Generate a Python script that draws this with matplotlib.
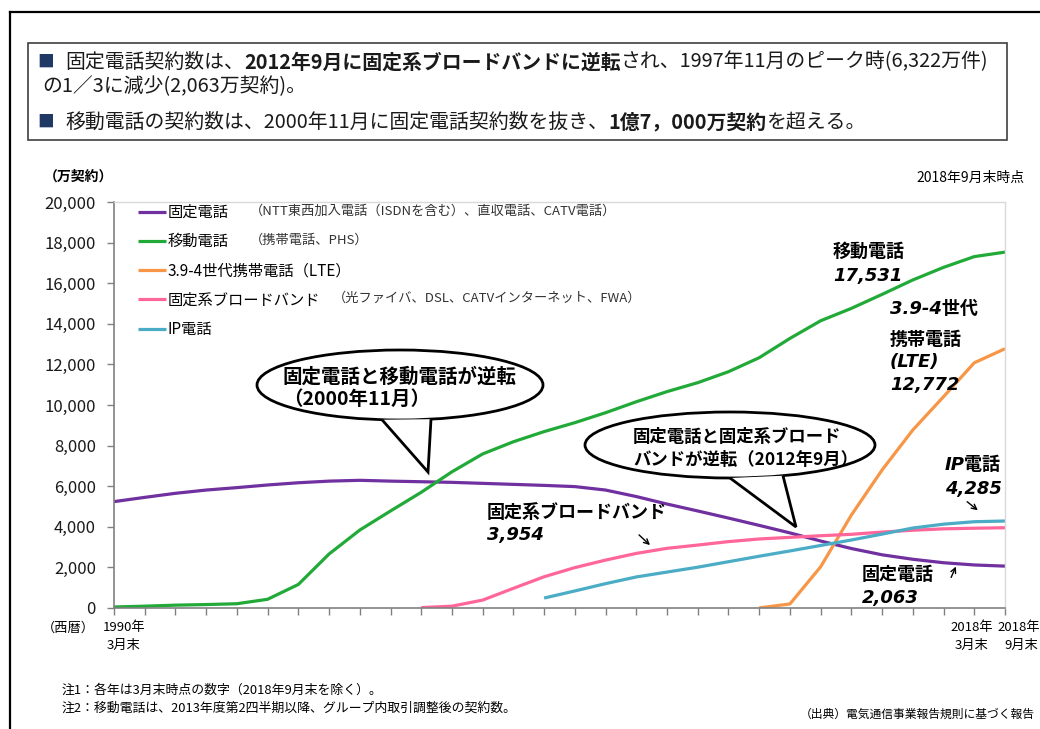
import numpy as np
import matplotlib
matplotlib.use('Agg')
import matplotlib.pyplot as plt
from matplotlib.patches import Ellipse, Polygon, Rectangle, FancyArrowPatch
from matplotlib.lines import Line2D
from matplotlib.ticker import FuncFormatter

plt.rcParams['font.family'] = ['Noto Sans CJK JP', 'DejaVu Sans']

W, H = 1040, 729

# 各年3月末（最後は2018年9月末）, 単位：万契約
periods = [str(y) for y in range(1990, 2019)] + ['2018.09']

fixed_phone = [5240, 5450, 5650, 5810, 5930, 6060, 6170, 6250, 6290, 6250,
               6220, 6190, 6140, 6090, 6040, 5980, 5810, 5490, 5120, 4780,
               4430, 4070, 3700, 3300, 2930, 2620, 2400, 2230, 2120, 2063]
mobile_phone = [50, 90, 140, 170, 210, 430, 1160, 2660, 3840, 4780,
                5700, 6710, 7590, 8190, 8690, 9130, 9620, 10160, 10660, 11100,
                11640, 12330, 13280, 14150, 14760, 15450, 16160, 16780, 17310, 17531]
lte_start = 21
lte = [3, 200, 2030, 4580, 6800, 8770, 10410, 12080, 12772]
broadband_start = 10
broadband = [20, 90, 390, 970, 1540, 1990, 2360, 2690, 2940, 3100,
             3270, 3400, 3480, 3560, 3630, 3740, 3830, 3900, 3930, 3954]
ip_start = 14
ip_phone = [490, 840, 1200, 1530, 1770, 2010, 2280, 2550, 2810, 3080,
            3350, 3640, 3940, 4130, 4250, 4285]

labels = ['固定電話', '移動電話', '3.9-4世代携帯電話（LTE）', '固定系ブロードバンド', 'IP電話']
notes = ['（NTT東西加入電話（ISDNを含む）、直収電話、CATV電話）', '（携帯電話、PHS）', None,
         '（光ファイバ、DSL、CATVインターネット、FWA）', None]
colors = ['#7030A0', '#22AA38', '#F79646', '#FF6699', '#4BACC6']


def fx(px):
    return px / W


def fy(py):
    return 1 - py / H


fig = plt.figure(figsize=(W / 100, H / 100), dpi=100)
renderer = fig.canvas.get_renderer()

# 外枠
fig.add_artist(Line2D([fx(10), 1], [fy(12), fy(12)], color='black', lw=1.6))
fig.add_artist(Line2D([fx(10), fx(10)], [fy(12), 0], color='black', lw=1.6))

# 上部の説明ボックス
fig.add_artist(Rectangle((fx(28), fy(140)), fx(1007) - fx(28), fy(43) - fy(140),
                         transform=fig.transFigure, fill=False, edgecolor='#404040', lw=1.2))


def text_width(s, **kw):
    t = fig.text(0, 0, s + '|', **kw)
    t2 = fig.text(0, 0, '|', **kw)
    w = t.get_window_extent(renderer).width - t2.get_window_extent(renderer).width
    t.remove()
    t2.remove()
    return w


def rich(x, y, parts, size):
    for s, weight in parts:
        kw = dict(fontsize=size, fontweight=weight, color='#1a1a1a')
        fig.text(fx(x), fy(y), s, va='center', ha='left', **kw)
        x += text_width(s, **kw)


box_size = 14.3
fig.text(fx(37), fy(62), '■', color='#1F3864', fontsize=12, va='center')
fig.text(fx(37), fy(122), '■', color='#1F3864', fontsize=12, va='center')
rich(65, 62, [('固定電話契約数は、', 'normal'),
              ('2012年9月に固定系ブロードバンドに逆転', 'bold'),
              ('され、1997年11月のピーク時(6,322万件)', 'normal')], box_size)
rich(42, 87, [('の1／3に減少(2,063万契約)。', 'normal')], box_size)
rich(65, 122, [('移動電話の契約数は、2000年11月に固定電話契約数を抜き、', 'normal'),
               ('1億7，000万契約', 'bold'),
               ('を超える。', 'normal')], box_size)

# グラフ本体
ax = fig.add_axes([fx(114), fy(608), fx(1005) - fx(114), fy(202) - fy(608)])
x = np.arange(len(periods))


def series(start, vals):
    return x[start:start + len(vals)], vals


lines = []
for (xs, ys), lab, col in zip([series(0, fixed_phone), series(0, mobile_phone),
                                series(lte_start, lte), series(broadband_start, broadband),
                                series(ip_start, ip_phone)], labels, colors):
    ln, = ax.plot(xs, ys, color=col, lw=2.3, label=lab, solid_capstyle='butt')
    lines.append(ln)

ax.set_xlim(0, len(periods) - 1)
ax.set_ylim(0, 20000)
ax.set_yticks(range(0, 20001, 2000))
ax.yaxis.set_major_formatter(FuncFormatter(lambda v, p: f'{int(v):,}'))
ax.set_xticks(x)
ax.set_xticklabels([])
ax.tick_params(axis='y', labelsize=12, length=5, width=1, color='#808080', pad=8, labelcolor='#1a1a1a')
ax.tick_params(axis='x', length=5, width=1, color='#808080')
for s in ['left', 'bottom']:
    ax.spines[s].set_color('#808080')
    ax.spines[s].set_linewidth(1.2)
for s in ['top', 'right']:
    ax.spines[s].set_color('#d9d9d9')
    ax.spines[s].set_linewidth(1)

leg = ax.legend(handles=lines, loc='upper left', bbox_to_anchor=(fx(138), fy(204)),
                bbox_transform=fig.transFigure, frameon=False, fontsize=11,
                handlelength=1.8, handletextpad=0.12, labelspacing=0.8,
                borderpad=0, borderaxespad=0)

note_pos = {0: (250, 211), 1: (250, 240), 3: (333, 298)}
for i, n in enumerate(notes):
    if n:
        px, py = note_pos[i]
        fig.text(fx(px), fy(py), n, fontsize=9.5, va='center', color='#333333')

fig.text(fx(44), fy(177), '（万契約）', fontsize=10, fontweight='bold', va='center', ha='left')
fig.text(fx(1025), fy(178), '2018年9月末時点', fontsize=10, va='center', ha='right')

# x軸の目盛りラベル
fig.text(fx(68), fy(628), '（西暦）', fontsize=9.5, va='center', ha='center')
for px, l1, l2 in [(124, '1990年', '3月末'), (972, '2018年', '3月末')]:
    fig.text(fx(px), fy(628), l1, fontsize=9.5, va='center', ha='center')
    fig.text(fx(px), fy(645), l2, fontsize=9.5, va='center', ha='center')
fig.text(fx(997), fy(628), '2018年', fontsize=9.5, va='center', ha='left')
fig.text(fx(1004), fy(645), '9月末', fontsize=9.5, va='center', ha='left')


# 吹き出し
def callout(cx, cy, a, b, base_x, tip, text_lines, tx, ty, size, gap):
    fig.add_artist(Ellipse((fx(cx), fy(cy)), 2 * a / W, 2 * b / H, transform=fig.transFigure,
                           facecolor='white', edgecolor='black', lw=2, zorder=5))
    pts = []
    for bx in base_x:
        by = cy + b * np.sqrt(1 - ((bx - cx) / a) ** 2)
        pts.append((fx(bx), fy(by)))
    poly = [pts[0], (fx(tip[0]), fy(tip[1])), pts[1]]
    fig.add_artist(Polygon(poly, closed=False, transform=fig.transFigure,
                           facecolor='white', edgecolor='black', lw=2, zorder=6))
    for k, t in enumerate(text_lines):
        fig.text(fx(tx), fy(ty + k * gap), t, fontsize=size, fontweight='bold',
                 va='center', ha='left', zorder=7)


callout(400, 385, 143, 35, [382, 431], (428, 472),
        ['固定電話と移動電話が逆転', '（2000年11月）'], 283, 377, 14, 22)
callout(730, 445, 145, 33, [730, 783], (796, 527),
        ['固定電話と固定系ブロード', 'バンドが逆転（2012年9月）'], 633, 437, 12.5, 23)

# 系列ラベル（斜体）
ital = dict(fontsize=13, fontweight='bold', style='italic',
            family=['DejaVu Sans', 'Noto Sans CJK JP'], va='center', ha='left')
for px, ys, texts in [(833, [252, 276], ['移動電話', '17,531']),
                      (890, [309], ['3.9-4世代']),
                      (890, [340, 362, 385], ['携帯電話', '(LTE)', '12,772']),
                      (945, [465, 489], ['IP電話', '4,285']),
                      (487, [513, 535], ['固定系ブロードバンド', '3,954']),
                      (862, [575, 598], ['固定電話', '2,063'])]:
    for py, t in zip(ys, texts):
        fig.text(fx(px), fy(py), t, **ital)

for a0, a1 in [((637, 533), (652, 547)), ((965, 500), (980, 512)), ((950, 580), (957, 564))]:
    fig.add_artist(FancyArrowPatch((fx(a0[0]), fy(a0[1])), (fx(a1[0]), fy(a1[1])),
                                   transform=fig.transFigure, arrowstyle='->',
                                   mutation_scale=9, lw=1, color='black'))

# 注記
fig.text(fx(62), fy(690), '注1：各年は3月末時点の数字（2018年9月末を除く）。', fontsize=9.3, va='center')
fig.text(fx(62), fy(708), '注2：移動電話は、2013年度第2四半期以降、グループ内取引調整後の契約数。', fontsize=9.3, va='center')
fig.text(fx(1035), fy(714), '（出典）電気通信事業報告規則に基づく報告', fontsize=8.5, va='center', ha='right')

fig.savefig('out.png', dpi=100)
